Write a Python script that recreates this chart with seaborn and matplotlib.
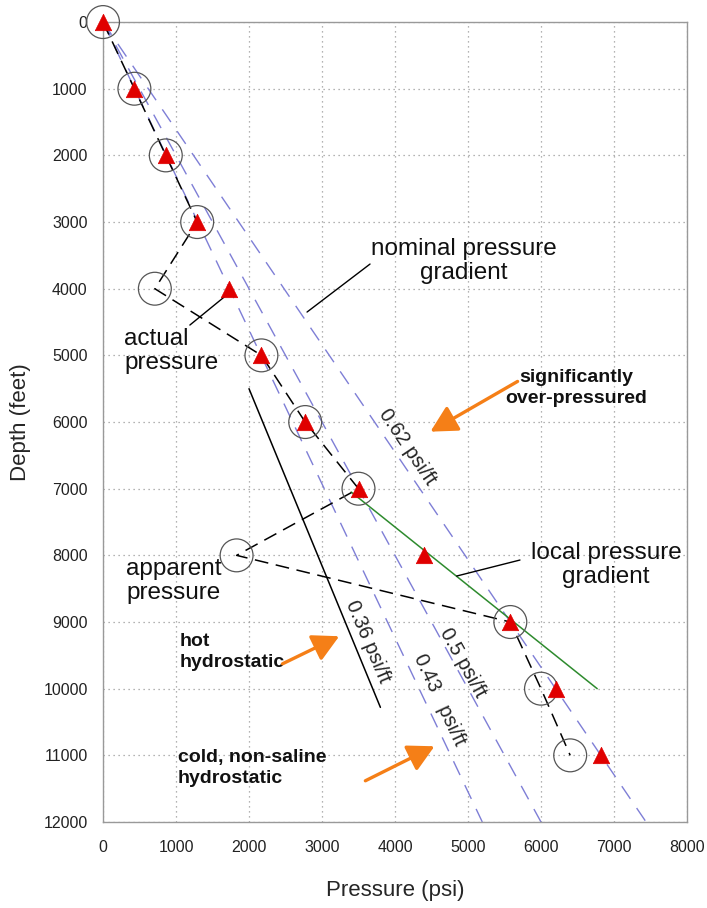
import numpy as np
import pandas as pd
import matplotlib
matplotlib.use("Agg")
import matplotlib.pyplot as plt
import seaborn as sns

# depth (ft) and pressures (psi)
depth = [0, 1000, 2000, 3000, 4000, 5000, 6000, 7000, 8000, 9000, 10000, 11000]
actual = [0, 430, 860, 1290, 1720, 2170, 2770, 3500, 4400, 5580, 6200, 6820]
apparent = [0, 430, 860, 1290, 710, 2170, 2770, 3500, 1830, 5580, 6000, 6400]

# nominal gradients (psi/ft), drawn from surface to 12000 ft
gradients = [0.433, 0.5, 0.62]
grad_depth = [0, 12000]

# hot hydrostatic line and local gradient segment
hot_p = [2000, 3800]
hot_d = [5500, 10280]
local_p = [3400, 6770]
local_d = [7050, 10000]

sns.set_style("whitegrid")
plt.rcParams['font.family'] = ['Liberation Sans', 'DejaVu Sans']

df = pd.DataFrame({'Depth': depth, 'Actual': actual, 'Apparent': apparent})

fig = plt.figure(figsize=(7.07, 9.08), dpi=100)
ax = fig.add_axes([0.1457, 0.0947, 0.826, 0.881])

# gradient lines
for g in gradients:
    ax.plot([g * d for d in grad_depth], grad_depth, color='#7e7ed6', lw=1.0,
            dashes=(11, 8), zorder=2)

ax.plot(hot_p, hot_d, color='black', lw=1.1, zorder=3)
ax.plot(local_p, local_d, color='#2e8b2e', lw=1.1, zorder=3)

# apparent pressure path
sns.lineplot(data=df, x='Apparent', y='Depth', sort=False, color='black', lw=1.1,
             dashes=False, ax=ax, zorder=4).lines[-1].set_dashes((9, 5))

sns.scatterplot(data=df, x='Apparent', y='Depth', marker='o', s=560,
                facecolor='none', edgecolor='#555555', linewidth=0.9,
                ax=ax, zorder=5, clip_on=False)
sns.scatterplot(data=df, x='Actual', y='Depth', marker='^', s=140,
                color='#e00000', edgecolor='#e00000', linewidth=0.5,
                ax=ax, zorder=6, clip_on=False)

ax.set_xlim(0, 8000)
ax.set_ylim(12000, 0)
ax.set_xticks(range(0, 8001, 1000))
ax.set_yticks(range(0, 12001, 1000))
ax.grid(True, linestyle=(0, (1, 3)), color='#9a9a9a', lw=0.9)
for s in ax.spines.values():
    s.set_color('#999999')
    s.set_linewidth(1.0)
ax.tick_params(axis='both', direction='out', length=5, color='#999999',
               labelsize=11.5, labelcolor='#222222')
ax.tick_params(axis='x', pad=8)
ax.tick_params(axis='y', pad=6)
ax.set_xlabel('Pressure (psi)', fontsize=16, labelpad=18)
ax.set_ylabel('Depth (feet)', fontsize=16, labelpad=9)

# labels
txt = dict(fontsize=17.5, color='#111111', linespacing=1.15)
ax.text(4945, 3585, 'nominal pressure\ngradient', ha='center', va='center', **txt)
ax.text(288, 4935, 'actual\npressure', ha='left', va='center', **txt)
ax.text(315, 8385, 'apparent\npressure', ha='left', va='center', **txt)
ax.text(6890, 8145, 'local pressure\ngradient', ha='center', va='center', **txt)

bold = dict(fontsize=14, fontweight='bold', color='#111111', linespacing=1.25)
ax.text(6480, 5490, 'significantly\nover-pressured', ha='center', va='center', **bold)
ax.text(1055, 9450, 'hot\nhydrostatic', ha='left', va='center', **bold)
ax.text(1027, 11190, 'cold, non-saline\nhydrostatic', ha='left', va='center', **bold)

rot = dict(fontsize=14.5, ha='center', va='center', rotation_mode='anchor')
ax.text(4165, 6375, '0.62 psi/ft', rotation=-56, **rot)
ax.text(4930, 9615, '0.5 psi/ft', rotation=-61, **rot)
ax.text(4616, 10170, '0.43   psi/ft', rotation=-65, **rot)
ax.text(3630, 9300, '0.36 psi/ft', rotation=-67, **rot)

# pointer lines
ptr = dict(color='black', lw=1.0, zorder=3)
ax.plot([3658, 2795], [3630, 4350], **ptr)
ax.plot([1190, 1710], [4545, 4080], **ptr)
ax.plot([5712, 4845], [8070, 8310], **ptr)

# orange arrows
arr = dict(arrowstyle='-|>,head_length=1.6,head_width=0.85', color='#f57f17', lw=2.4)
ax.annotate('', xy=(4452, 6165), xytext=(5712, 5370), arrowprops=arr)
ax.annotate('', xy=(3270, 9195), xytext=(2425, 9645), arrowprops=arr)
ax.annotate('', xy=(4575, 10845), xytext=(3560, 11400), arrowprops=arr)

fig.savefig('out.png', dpi=100)
